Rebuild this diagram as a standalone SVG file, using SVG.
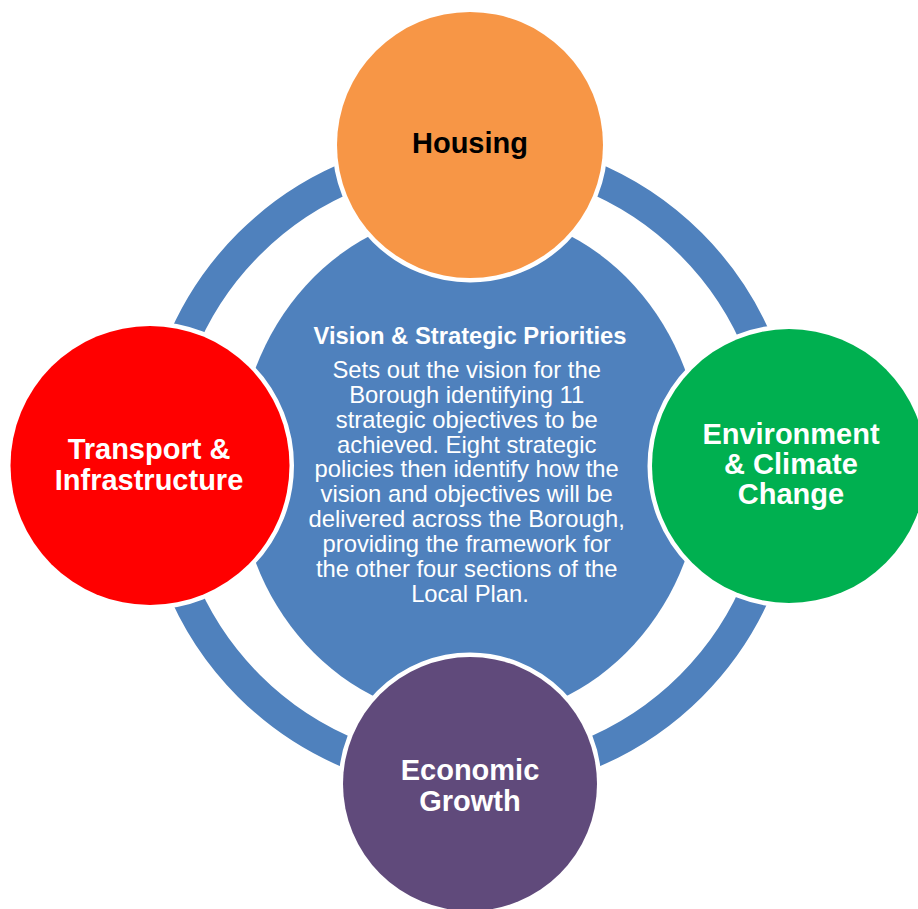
<svg xmlns="http://www.w3.org/2000/svg" width="918" height="909" viewBox="0 0 918 909">
<style>
.node{stroke:#FFFFFF;stroke-width:9;paint-order:stroke}
.lbl{font-family:"Liberation Sans",Arial,sans-serif;font-weight:bold;font-size:29px;text-anchor:middle;fill:#FFFFFF}
.body{font-family:"Liberation Sans",Arial,sans-serif;font-size:23.8px;text-anchor:middle;fill:#FFFFFF}
</style>
<rect width="918" height="909" fill="#FFFFFF"/>
<g id="connectors">
<circle cx="470" cy="465" r="312.5" fill="none" stroke="#4F81BD" stroke-width="31"/>
</g>
<g id="vision">
<ellipse cx="470" cy="465" rx="232" ry="254" fill="#4F81BD"/>
<text x="470" y="344" class="lbl" style="font-size:23.8px">Vision &amp; Strategic Priorities</text>
<text class="body">
<tspan x="470" y="378">Sets out the vision for the</tspan>
<tspan x="470" y="402.8">Borough identifying 11</tspan>
<tspan x="470" y="427.7">strategic objectives to be</tspan>
<tspan x="470" y="452.5">achieved. Eight strategic</tspan>
<tspan x="470" y="477.3">policies then identify how the</tspan>
<tspan x="470" y="502.2">vision and objectives will be</tspan>
<tspan x="470" y="527">delivered across the Borough,</tspan>
<tspan x="470" y="551.8">providing the framework for</tspan>
<tspan x="470" y="576.7">the other four sections of the</tspan>
<tspan x="470" y="601.5">Local Plan.</tspan>
</text>
</g>
<g id="housing">
<circle cx="470" cy="145" r="133" fill="#F79646" class="node"/>
<text x="470" y="153" class="lbl" style="fill:#000000">Housing</text>
</g>
<g id="environment">
<circle cx="789" cy="466" r="137" fill="#00B050" class="node"/>
<text class="lbl"><tspan x="791" y="444">Environment</tspan><tspan x="791" y="474">&amp; Climate</tspan><tspan x="791" y="504">Change</tspan></text>
</g>
<g id="economic">
<circle cx="470" cy="784" r="127" fill="#604A7B" class="node"/>
<text class="lbl"><tspan x="470" y="780">Economic</tspan><tspan x="470" y="811">Growth</tspan></text>
</g>
<g id="transport">
<circle cx="150" cy="465.5" r="139.5" fill="#FF0000" class="node"/>
<text class="lbl"><tspan x="149" y="459">Transport &amp;</tspan><tspan x="149" y="490">Infrastructure</tspan></text>
</g>
</svg>
